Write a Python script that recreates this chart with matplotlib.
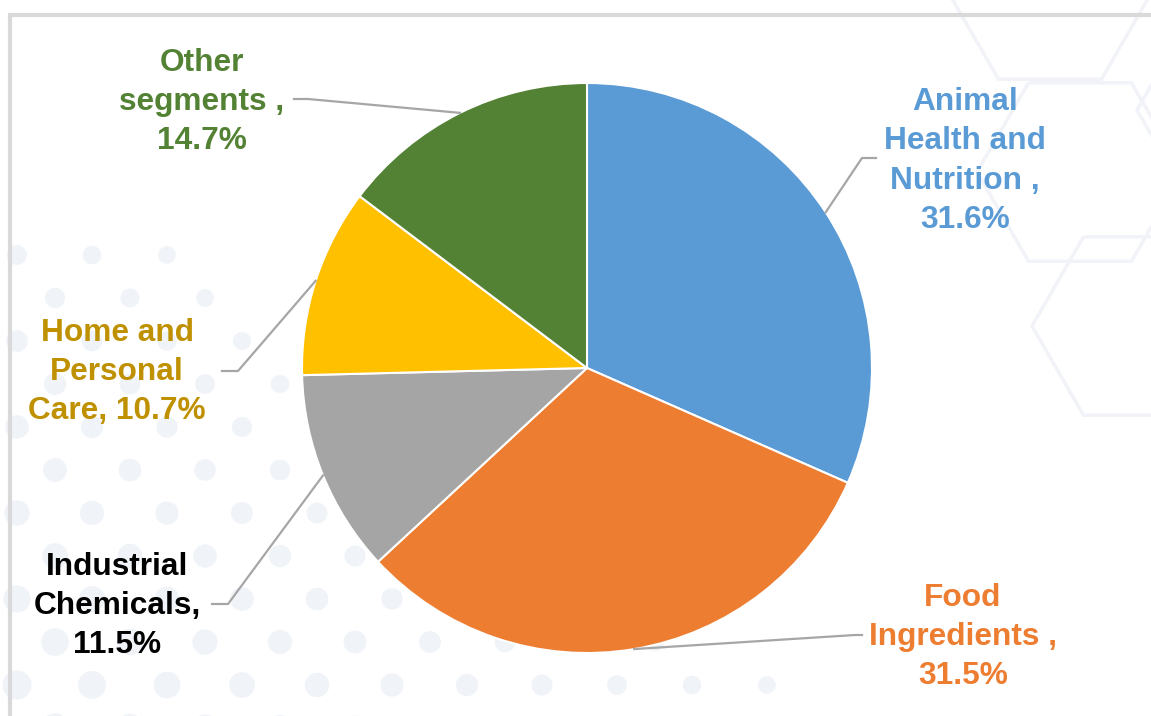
import numpy as np
import matplotlib.pyplot as plt
from matplotlib.patches import Circle, RegularPolygon

# segment share data
segments = ["Animal\nHealth and\nNutrition ,\n31.6%",
            "Food\nIngredients ,\n31.5%",
            "Industrial\nChemicals,\n11.5%",
            "Home and\nPersonal\nCare, 10.7%",
            "Other\nsegments ,\n14.7%"]
shares = [31.6, 31.5, 11.5, 10.7, 14.7]
colors = ["#5B9BD5", "#ED7D31", "#A5A5A5", "#FFC000", "#548235"]
label_colors = ["#5B9BD5", "#ED7D31", "#000000", "#BF9000", "#548235"]

W, H = 1151, 716
cx, cy, R = 587, 368, 285   # pie centre / radius in pixels

def px(x, y):
    ## pixel position -> data coords (pie radius = 1)
    return (x - cx) / R, (cy - y) / R

fig = plt.figure(figsize=(W / 100, H / 100), dpi=100)
ax = fig.add_axes([0, 0, 1, 1])

wedges, _ = ax.pie(shares, colors=colors, startangle=90, counterclock=False,
                   radius=1, center=(0, 0),
                   wedgeprops=dict(edgecolor="white", linewidth=1.5))
for w in wedges:
    w.set_zorder(2)

ax.set_aspect("auto")
ax.set_xlim(-cx / R, (W - cx) / R)
ax.set_ylim((cy - H) / R, cy / R)
ax.axis("off")

# faint background dots, bottom left
for j, yy in enumerate(np.arange(728, 220, -43)):
    off = 0 if j % 2 == 0 else 37
    for xx in np.arange(-20 + off, 800, 75):
        fade = (xx / 780) + (716 - yy) / 560
        if fade > 1.05:
            continue
        r = 15 * (1 - 0.4 * fade)
        ax.add_patch(Circle(px(xx, yy), r / R, color="#F0F3F8", lw=0, zorder=0))

# faint hexagons, top right
for hx, hy in [(1050, -10), (1080, 172), (1135, 326), (1240, 110)]:
    ax.add_patch(RegularPolygon(px(hx, hy), 6, radius=103 / R, orientation=np.pi / 6,
                                fill=False, ec="#F1F3F8", lw=2.5, zorder=0))

# frame (left + top)
ax.plot([px(10, 715)[0], px(10, 15)[0], px(1151, 15)[0]],
        [px(10, 715)[1], px(10, 15)[1], px(1151, 15)[1]],
        color="#D9D9D9", lw=3, zorder=1, solid_joinstyle="miter")

# label block centres and leader elbows (pixels)
text_pos = [(965, 161), (963, 637), (117, 606), (117, 372), (202, 102)]
elbows = [(862, 158), (855, 635), (228, 604), (238, 371), (308, 99)]
ends = [(876, 158), (862, 635), (212, 604), (222, 371), (294, 99)]

for w, lab, tc, tp, el, en in zip(wedges, segments, label_colors, text_pos, elbows, ends):
    mid = np.deg2rad((w.theta1 + w.theta2) / 2)
    ex, ey = np.cos(mid), np.sin(mid)
    p1, p2 = px(*el), px(*en)
    ax.plot([ex, p1[0], p2[0]], [ey, p1[1], p2[1]], color="#A6A6A6", lw=1.6, zorder=3)
    ax.text(*px(*tp), lab, ha="center", va="center", color=tc, fontsize=22.8,
            fontweight="bold", family="Liberation Sans", linespacing=1.4, zorder=4)

fig.savefig("out.png", dpi=100)
